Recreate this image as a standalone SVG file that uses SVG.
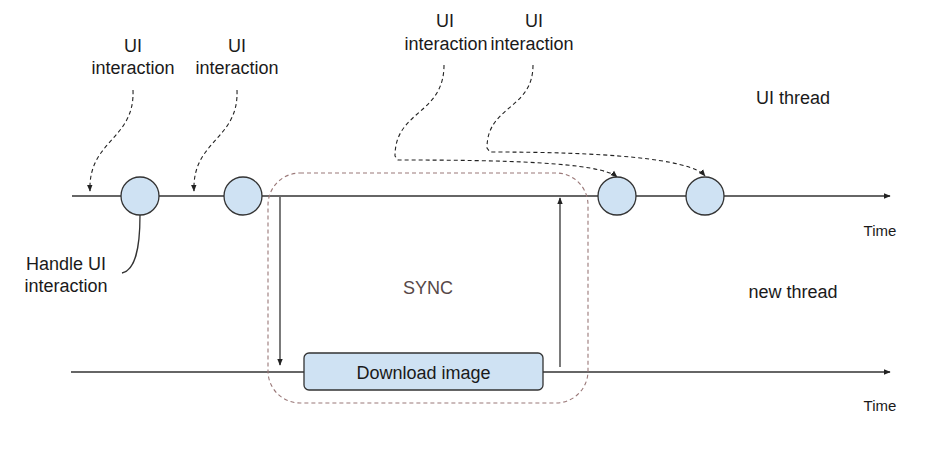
<svg xmlns="http://www.w3.org/2000/svg" width="938" height="458" viewBox="0 0 938 458">
<style>
text{font-family:"Liberation Sans",Arial,sans-serif;fill:#1a1a1a;}
.lbl{font-size:18px;text-anchor:middle;}
.time{font-size:15px;text-anchor:middle;}
.line{stroke:#333;stroke-width:1.3;fill:none;}
.dash{stroke:#222;stroke-width:1.1;fill:none;stroke-dasharray:4 3;}
.node{fill:#cfe2f3;stroke:#333;stroke-width:1.3;}
</style>
<defs>
<marker id="ah" viewBox="0 0 10 10" refX="9" refY="5" markerWidth="7" markerHeight="7" orient="auto" markerUnits="userSpaceOnUse">
<path d="M0,1 L10,5 L0,9 z" fill="#222"/>
</marker>
</defs>
<g id="timelines">
<line class="line" x1="72" y1="196" x2="890" y2="196" marker-end="url(#ah)"/>
<line class="line" x1="71" y1="372" x2="890" y2="372" marker-end="url(#ah)"/>
</g>
<g id="sync">
<rect x="268" y="173" width="320" height="230" rx="32" ry="32" fill="none" stroke="#9a7878" stroke-width="1.1" stroke-dasharray="4 3"/>
<text x="428" y="294" style="font-size:18px;text-anchor:middle;fill:#574848">SYNC</text>
</g>
<g id="connectors">
<line class="line" x1="280" y1="197" x2="280" y2="365" marker-end="url(#ah)"/>
<line class="line" x1="560" y1="367" x2="560" y2="198" marker-end="url(#ah)"/>
<path class="dash" d="M133,90 C135,140 88,140 90,191" marker-end="url(#ah)"/>
<path class="dash" d="M237,90 C239,140 192,140 194,191" marker-end="url(#ah)"/>
<path class="dash" d="M444,65 C444,115 395,110 395,156 L398,160 C500,160 600,162 617,177" marker-end="url(#ah)"/>
<path class="dash" d="M533,65 C533,110 487,105 487,148 L490,152 C600,152 690,158 705,176" marker-end="url(#ah)"/>
<path class="line" d="M140,215 C140,250 135,270 122,273"/>
</g>
<g id="n1"><circle class="node" cx="140" cy="196" r="19"/></g>
<g id="n2"><circle class="node" cx="243" cy="196" r="19"/></g>
<g id="n3"><circle class="node" cx="617" cy="196" r="19"/></g>
<g id="n4"><circle class="node" cx="705" cy="196" r="19"/></g>
<g id="download">
<rect class="node" x="304" y="353" width="239" height="37" rx="5" ry="5"/>
<text class="lbl" x="423.5" y="379">Download image</text>
</g>
<g id="labels">
<text class="lbl" x="133" y="52">UI</text>
<text class="lbl" x="133" y="74">interaction</text>
<text class="lbl" x="237" y="52">UI</text>
<text class="lbl" x="237" y="74">interaction</text>
<text class="lbl" x="445" y="27">UI</text>
<text class="lbl" x="446" y="50">interaction</text>
<text class="lbl" x="534" y="27">UI</text>
<text class="lbl" x="532" y="50">interaction</text>
<text class="lbl" x="66" y="270">Handle UI</text>
<text class="lbl" x="66" y="292">interaction</text>
<text class="lbl" x="793" y="104">UI thread</text>
<text class="lbl" x="793" y="298">new thread</text>
<text class="time" x="880" y="236">Time</text>
<text class="time" x="880" y="411">Time</text>
</g>
</svg>
